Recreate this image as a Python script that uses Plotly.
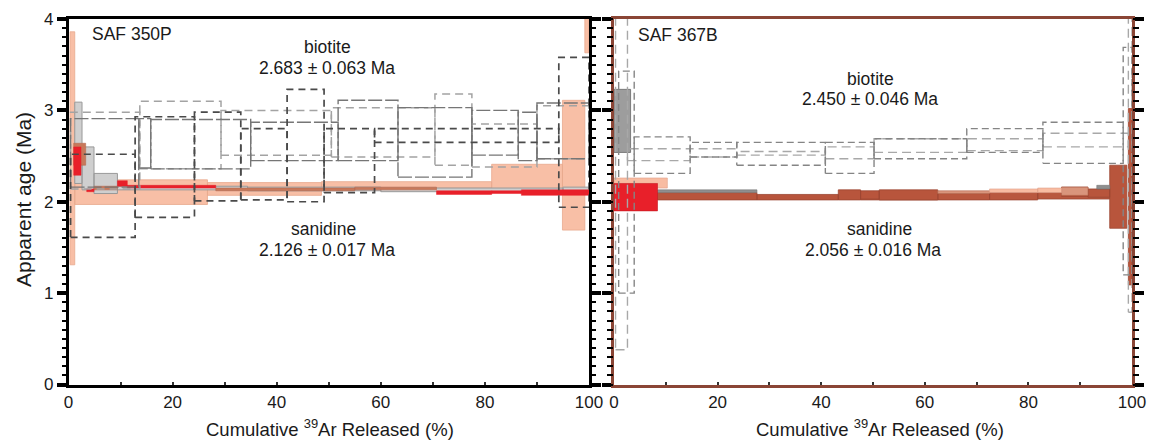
import plotly.graph_objects as go

W, H = 1149, 444

# ---------------- SAF 350P : sanidine (filled step boxes) ----------------
s350_salmon_x0 = [0.3, 1.2, 26.7, 48.6, 81.3, 94.9, 99.2]
s350_salmon_x1 = [1.2, 26.7, 48.6, 81.3, 94.9, 99.2, 100.0]
s350_salmon_lo = [1.31, 1.97, 2.07, 2.15, 2.10, 1.69, 3.63]
s350_salmon_hi = [3.86, 2.24, 2.21, 2.22, 2.41, 3.11, 4.60]

s350_gray_x0 = [1.2, 2.6, 4.9, 9.4, 34.4, 60.0, 95.0]
s350_gray_x1 = [2.6, 4.9, 9.4, 34.4, 60.0, 95.0, 100.0]
s350_gray_lo = [2.20, 2.13, 2.09, 2.13, 2.12, 2.11, 2.10]
s350_gray_hi = [3.09, 2.60, 2.31, 2.17, 2.16, 2.15, 2.16]

s350_brown_x0 = [1.0, 4.9, 28.3, 55.0]
s350_brown_x1 = [3.3, 9.4, 55.0, 70.7]
s350_brown_lo = [2.40, 2.13, 2.12, 2.13]
s350_brown_hi = [2.64, 2.17, 2.15, 2.16]

s350_red_x0 = [1.0, 3.5, 9.4, 11.3, 70.7, 81.3, 87.0]
s350_red_x1 = [2.4, 4.9, 11.3, 28.3, 81.3, 87.0, 100.0]
s350_red_lo = [2.29, 2.11, 2.17, 2.15, 2.08, 2.09, 2.07]
s350_red_hi = [2.60, 2.14, 2.23, 2.18, 2.12, 2.12, 2.13]

# ---------------- SAF 350P : biotite (dashed open boxes) ----------------
b350_dark_x0 = [0.4, 12.8, 24.2, 33.1, 42.0, 49.1, 58.8, 94.2]
b350_dark_x1 = [12.8, 24.2, 33.1, 42.0, 49.1, 58.8, 94.2, 100.0]
b350_dark_lo = [1.61, 1.83, 2.01, 2.02, 2.00, 2.10, 2.65, 1.94]
b350_dark_hi = [2.52, 2.93, 2.98, 2.80, 3.23, 2.80, 2.80, 3.58]

b350_light_x0 = [0.4, 13.7, 29.3, 50.5, 70.4, 77.5, 90.0]
b350_light_x1 = [13.7, 29.3, 50.5, 70.4, 77.5, 90.0, 100.0]
b350_light_lo = [2.14, 2.36, 2.51, 2.49, 2.40, 2.38, 2.47]
b350_light_hi = [2.98, 3.10, 3.00, 3.03, 3.18, 2.85, 3.05]

b350_mid_x0 = [0.4, 13.5, 15.8, 35.0, 51.8, 63.3, 77.5, 86.4, 90.0]
b350_mid_x1 = [13.5, 15.8, 35.0, 51.8, 63.3, 77.5, 86.4, 90.0, 100.0]
b350_mid_lo = [2.16, 2.37, 2.36, 2.45, 2.45, 2.27, 2.51, 2.45, 2.47]
b350_mid_hi = [2.91, 2.91, 2.90, 2.87, 3.11, 3.03, 3.00, 2.98, 3.08]

# ---------------- SAF 367B : sanidine ----------------
s367_salmon_x0 = [0.0, 72.5, 81.8]
s367_salmon_x1 = [10.3, 81.8, 86.4]
s367_salmon_lo = [2.15, 2.10, 2.10]
s367_salmon_hi = [2.26, 2.14, 2.15]

s367_red_x0 = [0.0]
s367_red_x1 = [8.4]
s367_red_lo = [1.90]
s367_red_hi = [2.20]

s367_brown2_x0 = [47.6, 62.5, 72.5, 81.8]
s367_brown2_x1 = [62.5, 72.5, 81.8, 95.7]
s367_brown2_lo = [2.02, 2.02, 2.02, 2.03]
s367_brown2_hi = [2.11, 2.09, 2.10, 2.10]

s367_brown_x0 = [8.4, 27.6, 43.3, 47.6, 51.2, 86.4, 91.5, 95.7, 99.3]
s367_brown_x1 = [27.6, 43.3, 47.6, 51.2, 62.5, 91.5, 95.7, 99.0, 100.0]
s367_brown_lo = [2.02, 2.02, 2.02, 2.03, 2.02, 2.06, 2.05, 1.71, 1.09]
s367_brown_hi = [2.10, 2.08, 2.13, 2.12, 2.13, 2.16, 2.14, 2.40, 3.02]

s367_tan_x0 = [62.5, 86.4]
s367_tan_x1 = [72.5, 91.5]
s367_tan_lo = [2.09, 2.07]
s367_tan_hi = [2.12, 2.16]

s367_gray_x0 = [8.4, 93.2]
s367_gray_x1 = [27.6, 95.7]
s367_gray_lo = [2.10, 2.14]
s367_gray_hi = [2.13, 2.18]

# ---------------- SAF 367B : biotite ----------------
b367_fill_x0 = [0.0]
b367_fill_x1 = [3.2]
b367_fill_lo = [2.54]
b367_fill_hi = [3.23]

b367_a_x0 = [0.9, 3.9, 14.7, 23.7, 40.8, 50.2, 68.1, 82.8, 98.3]
b367_a_x1 = [3.9, 14.7, 23.7, 40.8, 50.2, 68.1, 82.8, 98.3, 100.0]
b367_a_lo = [1.00, 2.31, 2.49, 2.40, 2.31, 2.47, 2.54, 2.42, 1.20]
b367_a_hi = [3.43, 2.71, 2.65, 2.65, 2.65, 2.69, 2.80, 2.87, 3.69]

b367_b_x0 = [0.3, 2.6, 14.7, 23.7, 40.8, 50.2, 68.1, 82.8, 99.3]
b367_b_x1 = [2.6, 14.7, 23.7, 40.8, 50.2, 68.1, 82.8, 99.3, 100.0]
b367_b_lo = [0.38, 2.45, 2.49, 2.51, 2.47, 2.54, 2.56, 2.60, 0.79]
b367_b_hi = [4.60, 2.58, 2.58, 2.55, 2.60, 2.69, 2.69, 2.75, 4.60]

# ---------------- labels / ticks ----------------
x_tick_step = 20
x_minor_step = 10
y_tick_step = 1
y_minor_step = 0.1
x_title = "Cumulative <sup>39</sup>Ar Released (%)"
y_title = "Apparent age (Ma)"
sample_labels = ["SAF 350P", "SAF 367B"]
biotite_ages = ["2.683 ± 0.063 Ma", "2.450 ± 0.046 Ma"]
sanidine_ages = ["2.126 ± 0.017 Ma", "2.056 ± 0.016 Ma"]

FONT = "Liberation Sans, Arial, sans-serif"


def boxes(x0, x1, lo, hi):
    xs, ys = [], []
    for a, b, l, h in zip(x0, x1, lo, hi):
        xs += [a, b, b, a, a, None]
        ys += [l, l, h, h, l, None]
    return xs, ys


fig = go.Figure()


def filled(x0, x1, lo, hi, fill, line, lw, ax):
    xs, ys = boxes(x0, x1, lo, hi)
    fig.add_trace(go.Scatter(x=xs, y=ys, mode="lines", fill="toself",
                             fillcolor=fill, line=dict(color=line, width=lw),
                             hoverinfo="skip", showlegend=False,
                             xaxis="x" + ax, yaxis="y" + ax))


def dashed(x0, x1, lo, hi, color, dash, lw, ax):
    xs, ys = boxes(x0, x1, lo, hi)
    fig.add_trace(go.Scatter(x=xs, y=ys, mode="lines",
                             line=dict(color=color, width=lw, dash=dash),
                             hoverinfo="skip", showlegend=False,
                             xaxis="x" + ax, yaxis="y" + ax))


# left panel
filled(s350_salmon_x0, s350_salmon_x1, s350_salmon_lo, s350_salmon_hi, "#f8bfa6", "#e9a98e", 0.8, "")
filled(s350_gray_x0, s350_gray_x1, s350_gray_lo, s350_gray_hi, "#cfcfcf", "#999999", 1.0, "")
filled(s350_brown_x0, s350_brown_x1, s350_brown_lo, s350_brown_hi, "#c8785a", "#b56a50", 0.6, "")
filled(s350_red_x0, s350_red_x1, s350_red_lo, s350_red_hi, "#e8202a", "#e8202a", 0.5, "")
dashed(b350_light_x0, b350_light_x1, b350_light_lo, b350_light_hi, "#a3a3a3", "8px,5px", 1.5, "")
dashed(b350_mid_x0, b350_mid_x1, b350_mid_lo, b350_mid_hi, "#767676", "14px,3px", 1.4, "")
dashed(b350_dark_x0, b350_dark_x1, b350_dark_lo, b350_dark_hi, "#4a4a4a", "7px,5px", 1.7, "")

# right panel
filled(s367_brown2_x0, s367_brown2_x1, s367_brown2_lo, s367_brown2_hi, "#b9583f", "#9c4632", 0.8, "2")
filled(s367_brown_x0, s367_brown_x1, s367_brown_lo, s367_brown_hi, "#b8553c", "#9c4632", 0.8, "2")
filled(s367_tan_x0, s367_tan_x1, s367_tan_lo, s367_tan_hi, "#d9957c", "#b56a50", 0.6, "2")
filled(s367_salmon_x0, s367_salmon_x1, s367_salmon_lo, s367_salmon_hi, "#f8bca2", "#e0a088", 0.6, "2")
filled(s367_gray_x0, s367_gray_x1, s367_gray_lo, s367_gray_hi, "#8f8f8f", "#777777", 0.6, "2")
filled(s367_red_x0, s367_red_x1, s367_red_lo, s367_red_hi, "#e8202a", "#c41a22", 0.6, "2")
filled(b367_fill_x0, b367_fill_x1, b367_fill_lo, b367_fill_hi, "#9d9d9d", "#7a7a7a", 1.0, "2")
dashed(b367_b_x0, b367_b_x1, b367_b_lo, b367_b_hi, "#a8a8a8", "9px,5px", 1.4, "2")
dashed(b367_a_x0, b367_a_x1, b367_a_lo, b367_a_hi, "#858585", "7px,4px", 1.4, "2")

# empty traces that activate the overlaid minor-tick axes
for ax in ("3", "4"):
    fig.add_trace(go.Scatter(x=[None], y=[None], mode="lines", hoverinfo="skip",
                             showlegend=False, xaxis="x" + ax, yaxis="y" + ax))

XL = [68.5 / W, 589 / W]
XR = [614 / W, 1132 / W]
YD = [1 - 384.5 / H, 1 - 19 / H]

tickfont = dict(family=FONT, size=17, color="#1a1a1a")


def xaxis(domain, anchor, linecolor):
    return dict(domain=domain, anchor=anchor, range=[0, 100], automargin=False,
                tickmode="linear", tick0=0, dtick=x_tick_step,
                showgrid=False, zeroline=False, showline=True, linecolor=linecolor,
                linewidth=2.5, mirror=True, ticks="inside", ticklen=3, tickwidth=1.5,
                tickcolor="#333333", tickfont=tickfont, layer="above traces")


def xminor(domain, anchor, over):
    return dict(domain=domain, anchor=anchor, overlaying=over, side="bottom",
                range=[0, 100], automargin=False, tickmode="linear", tick0=0,
                dtick=x_minor_step, showgrid=False, zeroline=False, showline=False,
                ticks="inside", ticklen=3, tickwidth=1.5, tickcolor="#333333",
                showticklabels=False)


def yaxis(anchor, linecolor, labels):
    return dict(domain=YD, anchor=anchor, range=[0, 4], automargin=False,
                tickmode="linear", tick0=0, dtick=y_tick_step,
                showgrid=False, zeroline=False, showline=True, linecolor=linecolor,
                linewidth=2.5, mirror="ticks", ticks="outside", ticklen=9, tickwidth=3.5,
                tickcolor="black", showticklabels=labels, tickfont=tickfont,
                layer="above traces")


def yminor(anchor, over):
    return dict(domain=YD, anchor=anchor, overlaying=over, side="left",
                range=[0, 4], automargin=False, tickmode="linear", tick0=0,
                dtick=y_minor_step, showgrid=False, zeroline=False, showline=False,
                mirror="ticks", ticks="outside", ticklen=6, tickwidth=2,
                tickcolor="black", showticklabels=False)


ann = []


def txt(px, py, s, size=17.5, xanchor="center", angle=0):
    ann.append(dict(x=px / W, y=1 - py / H, xref="paper", yref="paper", text=s,
                    showarrow=False, xanchor=xanchor, yanchor="middle", textangle=angle,
                    font=dict(family=FONT, size=size, color="#1a1a1a")))


txt(90, 34, sample_labels[0], xanchor="left")
txt(636, 35, sample_labels[1], xanchor="left")
txt(327, 47, "biotite")
txt(327, 68, biotite_ages[0])
txt(323, 229, "sanidine")
txt(327, 250, sanidine_ages[0])
txt(870, 79, "biotite")
txt(870, 99, biotite_ages[1])
txt(879, 229, "sanidine")
txt(873, 250, sanidine_ages[1])
txt(23, 200, y_title, size=21, angle=-90)
txt(330, 428, x_title, size=18.5)
txt(880, 428, x_title, size=18.5)

fig.update_layout(
    template="none",
    width=W, height=H, autosize=False,
    margin=dict(l=0, r=0, t=0, b=0, pad=0),
    paper_bgcolor="white", plot_bgcolor="white",
    xaxis=xaxis(XL, "y", "black"),
    yaxis=yaxis("x", "black", True),
    xaxis2=xaxis(XR, "y2", "#8a4535"),
    yaxis2=yaxis("x2", "#8a4535", False),
    xaxis3=xminor(XL, "y3", "x"),
    yaxis3=yminor("x3", "y"),
    xaxis4=xminor(XR, "y4", "x2"),
    yaxis4=yminor("x4", "y2"),
    annotations=ann,
    showlegend=False,
)

fig.write_html("out.html", config={"displayModeBar": False},
               post_script="document.body.style.margin='0';")
